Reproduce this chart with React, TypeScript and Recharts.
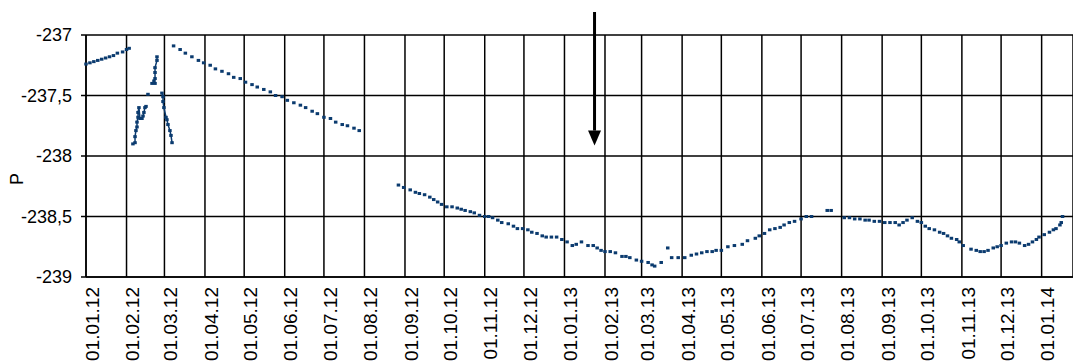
import { ScatterChart, Scatter, XAxis, YAxis, CartesianGrid, ReferenceLine } from 'recharts';

const FONT = '"Liberation Sans", Arial, sans-serif';
const INK = '#0b3b6f';

// month tick labels (dd.mm.yy)
const tickLabels = [
  '01.01.12', '01.02.12', '01.03.12', '01.04.12', '01.05.12', '01.06.12', '01.07.12',
  '01.08.12', '01.09.12', '01.10.12', '01.11.12', '01.12.12', '01.01.13', '01.02.13',
  '01.03.13', '01.04.13', '01.05.13', '01.06.13', '01.07.13', '01.08.13', '01.09.13',
  '01.10.13', '01.11.13', '01.12.13', '01.01.14',
];

const yTicks = [-239, -238.5, -238, -237.5, -237];

// [day since 01.01.12, P]
const janSeg: [number, number][] = [
  [0, -237.24], [3, -237.23], [6, -237.22], [9, -237.21], [12, -237.2], [15, -237.19],
  [18, -237.18], [21, -237.17], [24, -237.15], [28, -237.14], [31, -237.12], [33, -237.11],
];

// February disturbance, drawn as joined traces
const febTraceA: [number, number][] = [
  [35.9, -237.9], [37.5, -237.89], [37.5, -237.84], [38.2, -237.79], [39.0, -237.76],
  [39.0, -237.72], [39.8, -237.68], [39.8, -237.64], [40.5, -237.6], [41.3, -237.69],
  [42.8, -237.69], [43.6, -237.67], [44.3, -237.64], [45.1, -237.6], [45.9, -237.59],
];
const febTraceB: [number, number][] = [
  [50.5, -237.4], [52.8, -237.4], [52.0, -237.38], [52.8, -237.36], [52.8, -237.31],
  [52.8, -237.27], [54.3, -237.21], [54.3, -237.18],
];
const febTraceC: [number, number][] = [
  [58.1, -237.48], [58.9, -237.51], [58.9, -237.55], [59.6, -237.6], [61.2, -237.68],
  [61.9, -237.7], [62.7, -237.74], [64.2, -237.79], [65.0, -237.83], [65.8, -237.89],
];
const febLoose: [number, number][] = [[47.4, -237.49]];

const springSeg: [number, number][] = [
  [67, -237.09], [72, -237.12], [76, -237.15], [81, -237.18], [86, -237.21], [90, -237.23],
  [95, -237.25], [99, -237.28], [104, -237.3], [109, -237.32], [113, -237.35], [118, -237.36],
  [122, -237.39], [127, -237.41], [131, -237.43], [136, -237.45], [141, -237.47], [145, -237.5],
  [150, -237.51], [154, -237.54], [159, -237.56], [164, -237.58], [168, -237.6], [173, -237.63],
  [177, -237.65], [182, -237.68], [187, -237.69], [191, -237.72], [196, -237.74], [200, -237.75],
  [205, -237.77], [209, -237.79],
];

const lateSeg: [number, number][] = [
  [239, -238.24], [243, -238.26], [248, -238.28], [252, -238.3], [255, -238.31], [259, -238.32],
  [263, -238.34], [266, -238.36], [269, -238.38], [272, -238.4], [276, -238.42], [280, -238.42],
  [284, -238.43], [287, -238.44], [290, -238.45], [294, -238.46], [297, -238.47], [301, -238.49],
  [305, -238.5], [308, -238.5], [311, -238.51], [315, -238.53], [318, -238.55], [323, -238.56],
  [327, -238.58], [330, -238.6], [334, -238.6], [338, -238.61], [341, -238.63], [345, -238.64],
  [349, -238.66], [352, -238.67], [356, -238.67], [360, -238.67], [364, -238.69], [368, -238.71],
  [372, -238.74], [375, -238.73], [379, -238.71], [384, -238.74], [388, -238.74], [391, -238.76],
  [394, -238.78], [397, -238.79], [401, -238.79], [405, -238.8], [410, -238.83], [413, -238.83],
  [416, -238.84], [421, -238.86], [425, -238.87], [430, -238.88], [433, -238.9], [435, -238.91],
  [440, -238.88], [445, -238.76], [448, -238.84], [453, -238.84], [458, -238.84], [463, -238.82],
  [467, -238.81], [471, -238.8], [475, -238.79], [479, -238.79], [482, -238.78], [486, -238.78],
  [491, -238.75], [496, -238.74], [502, -238.73], [506, -238.7], [512, -238.68], [515, -238.66],
  [519, -238.64], [523, -238.61], [527, -238.6], [531, -238.59], [534, -238.57], [538, -238.55],
  [542, -238.54], [547, -238.52], [551, -238.5], [555, -238.5], [567, -238.45], [570, -238.45],
  [580, -238.51], [584, -238.51], [588, -238.52], [592, -238.52], [596, -238.53], [599, -238.53],
  [603, -238.54], [607, -238.54], [611, -238.55], [615, -238.55], [619, -238.55], [622, -238.57],
  [625, -238.55], [628, -238.53], [632, -238.51], [636, -238.54], [639, -238.55], [642, -238.58],
  [645, -238.6], [649, -238.61], [653, -238.63], [656, -238.64], [659, -238.66], [662, -238.68],
  [666, -238.69], [668, -238.71], [671, -238.74], [677, -238.77], [681, -238.78], [684, -238.79],
  [687, -238.79], [690, -238.78], [694, -238.76], [697, -238.75], [700, -238.74], [704, -238.72],
  [708, -238.71], [711, -238.71], [714, -238.72], [718, -238.74], [721, -238.73], [724, -238.71],
  [727, -238.69], [729, -238.67], [733, -238.65], [737, -238.63], [740, -238.61], [742, -238.6],
  [745, -238.57], [746, -238.55], [747, -238.5],
];

// marked event
const arrowDay = 389;
const arrowTop = -236.81;
const arrowEnd = -237.79;

const DAY0 = Date.UTC(2012, 0, 1);
const tickDays = tickLabels.map((s) => {
  const [d, m, y] = s.split('.').map(Number);
  return (Date.UTC(2000 + y, m - 1, d) - DAY0) / 86400000;
});
const labelByDay = new Map(tickDays.map((d, i) => [d, tickLabels[i]]));

const toRows = (pts: [number, number][]) => pts.map(([d, v]) => ({ d, v }));

const Dot = (props: any) => (
  <rect x={props.cx - 1.75} y={props.cy - 1.5} width={3.5} height={3} fill={INK} />
);

const MonthTick = (props: any) => {
  const { x, y, payload } = props;
  return (
    <g transform={`translate(${x + 6},${y}) rotate(-90)`}>
      <text x={0} y={0} dy="0.35em" textAnchor="end" fontSize={19} fontFamily={FONT} fill="#000">
        {labelByDay.get(payload.value) ?? ''}
      </text>
    </g>
  );
};

const ArrowShape = (props: any) => {
  const { x1, y1, x2, y2 } = props;
  return (
    <g>
      <line x1={x1} y1={y1} x2={x2} y2={y2} stroke="#000" strokeWidth={3} />
      <polygon points={`${x2 - 6.5},${y2} ${x2 + 6.5},${y2} ${x2},${y2 + 15}`} fill="#000" />
    </g>
  );
};

export default function App() {
  return (
    <div style={{ position: 'absolute', left: 0, top: 0, width: 1073, height: 361, background: '#fff' }}>
      <ScatterChart width={1073} height={361} margin={{ top: 35, right: 0, bottom: 0, left: 0 }}>
        <CartesianGrid stroke="#000" strokeWidth={1.5} />
        <XAxis
          type="number"
          dataKey="d"
          domain={[0, 755]}
          ticks={tickDays}
          interval={0}
          height={84}
          tickSize={0}
          tickMargin={10}
          axisLine={{ stroke: '#000', strokeWidth: 1.5 }}
          tick={<MonthTick />}
        />
        <YAxis
          type="number"
          dataKey="v"
          domain={[-239, -237]}
          ticks={yTicks}
          interval={0}
          width={86}
          tickSize={5}
          tickMargin={9}
          axisLine={{ stroke: '#000', strokeWidth: 1.5 }}
          tickLine={{ stroke: '#000', strokeWidth: 1.5 }}
          tick={{ fontSize: 18, fontFamily: FONT, fill: '#000' }}
          tickFormatter={(v: number) => String(v).replace('.', ',')}
        />
        <Scatter data={toRows(janSeg)} shape={Dot} isAnimationActive={false} />
        <Scatter data={toRows(febTraceA)} shape={Dot} line={{ stroke: INK, strokeWidth: 1.5 }} isAnimationActive={false} />
        <Scatter data={toRows(febTraceB)} shape={Dot} line={{ stroke: INK, strokeWidth: 1.5 }} isAnimationActive={false} />
        <Scatter data={toRows(febTraceC)} shape={Dot} line={{ stroke: INK, strokeWidth: 1.5 }} isAnimationActive={false} />
        <Scatter data={toRows(febLoose)} shape={Dot} isAnimationActive={false} />
        <Scatter data={toRows(springSeg)} shape={Dot} isAnimationActive={false} />
        <Scatter data={toRows(lateSeg)} shape={Dot} isAnimationActive={false} />
        <ReferenceLine
          segment={[{ x: arrowDay, y: arrowTop }, { x: arrowDay, y: arrowEnd }]}
          ifOverflow="visible"
          shape={ArrowShape}
        />
      </ScatterChart>
      <div
        style={{
          position: 'absolute',
          left: 17,
          top: 179,
          transform: 'translate(-50%, -50%) rotate(-90deg)',
          fontSize: 18,
          fontFamily: FONT,
          color: '#000',
          lineHeight: 1,
        }}
      >
        P
      </div>
    </div>
  );
}
